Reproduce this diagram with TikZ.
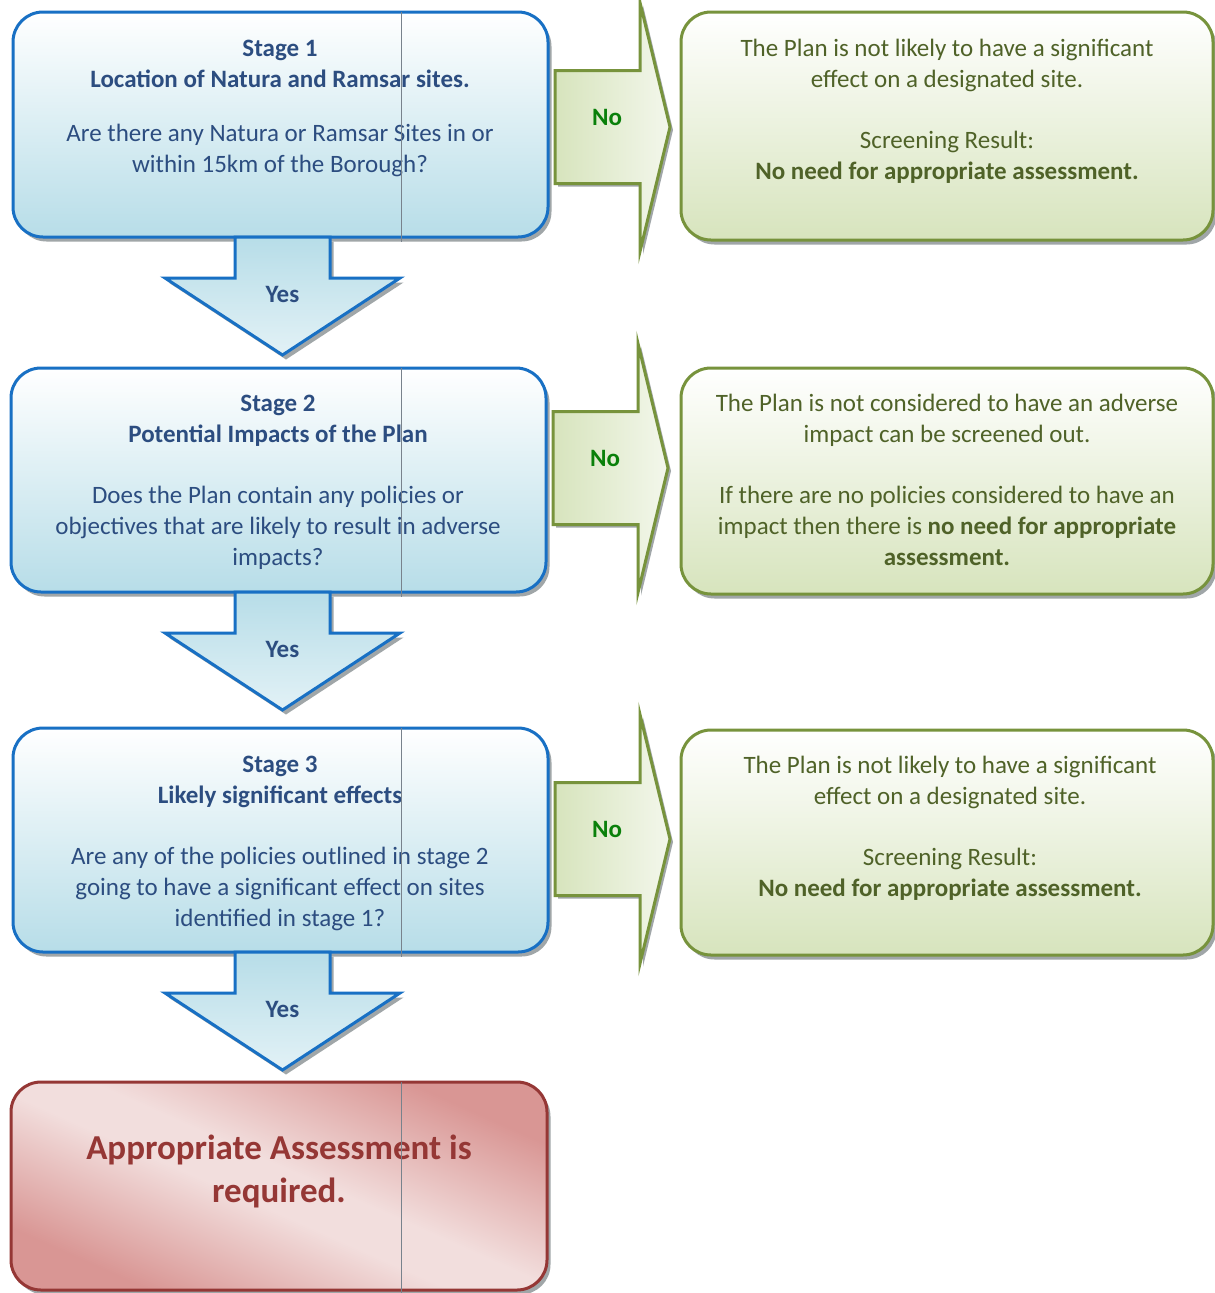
\documentclass[tikz,border=0pt]{standalone}
\usepackage{fontspec}
\setmainfont{Carlito}
\usetikzlibrary{calc,shadows}
\definecolor{bluebd}{RGB}{24,112,196}
\definecolor{bluefill}{RGB}{183,221,232}
\definecolor{bluetx}{RGB}{44,77,128}
\definecolor{greenbd}{RGB}{119,147,60}
\definecolor{greenfill}{RGB}{215,228,189}
\definecolor{greentx}{RGB}{79,98,40}
\definecolor{notx}{RGB}{10,128,10}
\definecolor{redbd}{RGB}{149,55,53}
\definecolor{redtx}{RGB}{149,55,53}
\definecolor{redL}{RGB}{242,222,221}
\definecolor{redD}{RGB}{217,150,148}
\definecolor{shadowc}{RGB}{160,166,168}
\definecolor{artc}{RGB}{120,130,140}
\pgfdeclarehorizontalshading{redband}{100bp}{color(0bp)=(redD); color(26bp)=(redD); color(46bp)=(redL); color(53bp)=(redL); color(74bp)=(redD); color(100bp)=(redD)}
\begin{document}
\begin{tikzpicture}[x=1pt,y=-1pt,
  box/.style={draw, rounded corners=30pt, line width=3pt, outer sep=0pt, inner sep=0pt,
    drop shadow={shadow xshift=3.5pt, shadow yshift=-4.5pt, fill=shadowc, opacity=1}},
  stagebox/.style={box, draw=bluebd, top color=white, bottom color=bluefill},
  resultbox/.style={box, draw=greenbd, top color=white, bottom color=greenfill},
  finalbox/.style={box, draw=redbd, shading=redband, shading angle=66},
  stagetext/.style={align=center, text=bluetx, inner sep=0pt, font=\fontsize{25}{31}\selectfont},
  resulttext/.style={align=center, text=greentx, inner sep=0pt, font=\fontsize{25}{31}\selectfont},
  finaltext/.style={align=center, text=redtx, inner sep=0pt, font=\bfseries\fontsize{35}{43}\selectfont},
  yeslabel/.style={text=bluetx, inner sep=0pt, font=\bfseries\fontsize{25}{29}\selectfont},
  nolabel/.style={text=notx, inner sep=0pt, font=\bfseries\fontsize{25}{29}\selectfont},
  yesshape/.style={draw=bluebd, line width=3pt, miter limit=20, top color=bluefill, bottom color=bluefill!40,
    drop shadow={shadow xshift=3.5pt, shadow yshift=-4.5pt, fill=shadowc, opacity=1}},
  noshape/.style={draw=greenbd, line width=3pt, miter limit=20, left color=greenfill, right color=greenfill!30,
    drop shadow={shadow xshift=3pt, shadow yshift=-3pt, fill=shadowc, opacity=1}},
  artline/.style={draw=artc, line width=0.7pt},
  yesarrow/.pic={
    \path[yesshape] (-47.5,0) -- (-47.5,41) -- (-117.5,41) -- (0,118) -- (117.5,41) -- (47.5,41) -- (47.5,0) -- cycle;
    \node[yeslabel] (-lbl) at (0,57) {Yes};
  },
  noarrow/.pic={
    \path[noshape] (7,-56.5) -- (92,-56.5) -- (92,-124.5) -- (122,0) -- (92,124.5) -- (92,56.5) -- (7,56.5) -- cycle;
    \node[nolabel] (-lbl) at (59,-10) {No};
  }
]
\useasboundingbox[fill=white] (0,0) rectangle (1215,1293);

% left column boxes
\node[stagebox, minimum width=535pt, minimum height=225pt] (s1) at (280.5,124.5) {};
\node[stagebox, minimum width=535pt, minimum height=224pt] (s2) at (278.5,480) {};
\node[stagebox, minimum width=535pt, minimum height=224pt] (s3) at (280.5,840) {};
\node[finalbox, minimum width=536pt, minimum height=208pt] (fin) at (279,1186) {};

% right column boxes
\node[resultbox, minimum width=532pt, minimum height=228pt] (r1) at (947,126) {};
\node[resultbox, minimum width=532pt, minimum height=226pt] (r2) at (947,481) {};
\node[resultbox, minimum width=532pt, minimum height=225pt] (r3) at (947,842.5) {};

% Yes arrows
\pic (y1) at ($(s1.south)+(2,0)$) {yesarrow};
\pic (y2) at ($(s2.south)+(4,0)$) {yesarrow};
\pic (y3) at ($(s3.south)+(2,0)$) {yesarrow};

% No arrows
\pic (n1) at ($(s1.east)+(0,2.5)$) {noarrow};
\pic (n2) at ($(s2.east)+(0,-12)$) {noarrow};
\pic (n3) at ($(s3.east)+(0,-1)$) {noarrow};

% texts
\node[stagetext] (t1) at (280,108) {\textbf{Stage 1}\\\textbf{Location of Natura and Ramsar sites.}\\[23pt]Are there any Natura or Ramsar Sites in or\\within 15km of the Borough?};
\node[stagetext] (t2) at (278,482) {\textbf{Stage 2}\\\textbf{Potential Impacts of the Plan}\\[30pt]Does the Plan contain any policies or\\objectives that are likely to result in adverse\\impacts?};
\node[stagetext] (t3) at (280,843.5) {\textbf{Stage 3}\\\textbf{Likely significant effects}\\[30pt]Are any of the policies outlined in stage 2\\going to have a significant effect on sites\\identified in stage 1?};
\node[finaltext] (tf) at (279,1171.5) {Appropriate Assessment is\\required.};

\node[resulttext] (u1) at (947,111.5) {The Plan is not likely to have a significant\\effect on a designated site.\\[30pt]Screening Result:\\\textbf{No need for appropriate assessment.}};
\node[resulttext] (u2) at (947,479.5) {The Plan is not considered to have an adverse\\impact can be screened out.\\[30pt]If there are no policies considered to have an\\impact then there is \textbf{no need for appropriate}\\\textbf{assessment.}};
\node[resulttext] (u3) at (950,828.5) {The Plan is not likely to have a significant\\effect on a designated site.\\[30pt]Screening Result:\\\textbf{No need for appropriate assessment.}};

% thin vertical artefact lines
\draw[artline] ($(s1.north)+(120.5,0)$) -- ($(s1.south)+(120.5,5)$);
\draw[artline] ($(s2.north)+(122.5,0)$) -- ($(s2.south)+(122.5,5)$);
\draw[artline] ($(s3.north)+(120.5,0)$) -- ($(s3.south)+(120.5,5)$);
\draw[artline] ($(fin.north)+(122,0)$) -- ($(fin.south)+(122,4)$);
\end{tikzpicture}
\end{document}
